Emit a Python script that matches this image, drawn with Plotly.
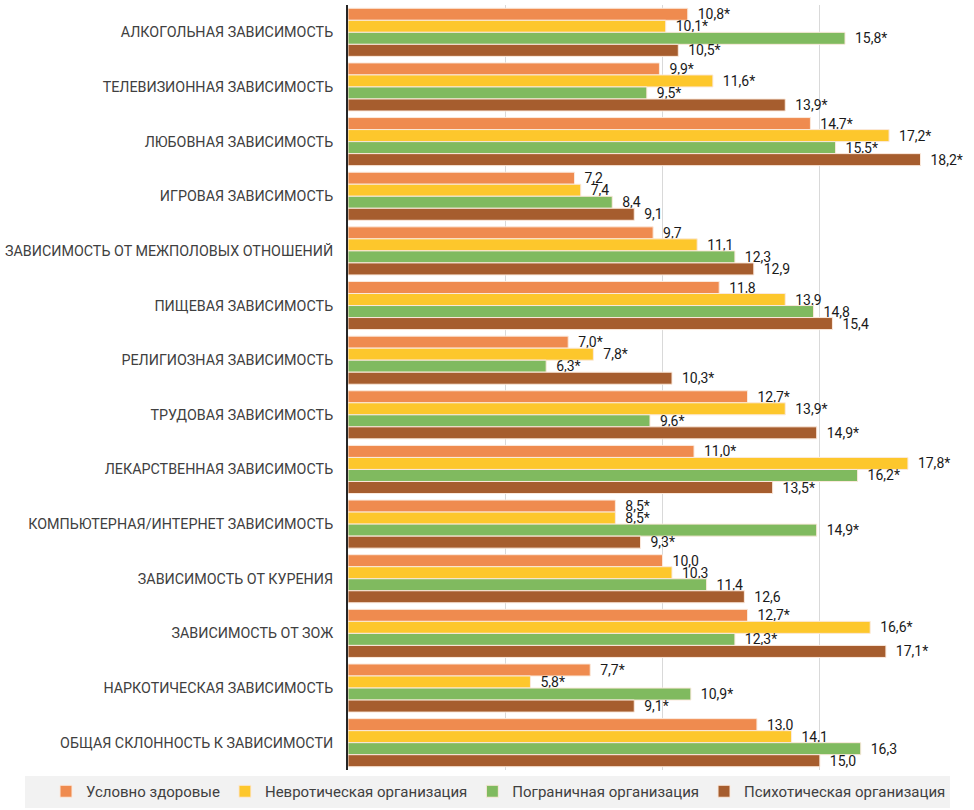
import plotly.graph_objects as go

categories = [
    "АЛКОГОЛЬНАЯ ЗАВИСИМОСТЬ",
    "ТЕЛЕВИЗИОННАЯ ЗАВИСИМОСТЬ",
    "ЛЮБОВНАЯ ЗАВИСИМОСТЬ",
    "ИГРОВАЯ ЗАВИСИМОСТЬ",
    "ЗАВИСИМОСТЬ ОТ МЕЖПОЛОВЫХ ОТНОШЕНИЙ",
    "ПИЩЕВАЯ ЗАВИСИМОСТЬ",
    "РЕЛИГИОЗНАЯ ЗАВИСИМОСТЬ",
    "ТРУДОВАЯ ЗАВИСИМОСТЬ",
    "ЛЕКАРСТВЕННАЯ ЗАВИСИМОСТЬ",
    "КОМПЬЮТЕРНАЯ/ИНТЕРНЕТ ЗАВИСИМОСТЬ",
    "ЗАВИСИМОСТЬ ОТ КУРЕНИЯ",
    "ЗАВИСИМОСТЬ ОТ ЗОЖ",
    "НАРКОТИЧЕСКАЯ ЗАВИСИМОСТЬ",
    "ОБЩАЯ СКЛОННОСТЬ К ЗАВИСИМОСТИ",
]

series_names = [
    "Условно здоровые",
    "Невротическая организация",
    "Пограничная организация",
    "Психотическая организация",
]

healthy = [10.8, 9.9, 14.7, 7.2, 9.7, 11.8, 7.0, 12.7, 11.0, 8.5, 10.0, 12.7, 7.7, 13.0]
neurotic = [10.1, 11.6, 17.2, 7.4, 11.1, 13.9, 7.8, 13.9, 17.8, 8.5, 10.3, 16.6, 5.8, 14.1]
borderline = [15.8, 9.5, 15.5, 8.4, 12.3, 14.8, 6.3, 9.6, 16.2, 14.9, 11.4, 12.3, 10.9, 16.3]
psychotic = [10.5, 13.9, 18.2, 9.1, 12.9, 15.4, 10.3, 14.9, 13.5, 9.3, 12.6, 17.1, 9.1, 15.0]

# significance marks (*) per category (same for all four groups)
significant = [True, True, True, False, False, False, True, True, True, True, False, True, True, False]

colors = ["#EF8B4F", "#FDC72C", "#80BA5F", "#A65D2E"]

all_values = [healthy, neurotic, borderline, psychotic]

FONT = "Roboto, Noto Sans, sans-serif"

W, H = 974, 810
ML, MR, MT, MB = 348, 0, 5, 40
PW = W - ML - MR
PH = H - MT - MB


def fmt(v, s):
    t = f"{v:.1f}".replace(".", ",")
    return "\u00a0\u00a0" + t + ("*" if s else "")


fig = go.Figure()
for name, vals, col in zip(series_names, all_values, colors):
    fig.add_trace(go.Bar(
        y=categories,
        x=vals,
        name=name,
        orientation="h",
        marker=dict(color=col, line=dict(color="#FBE9DC", width=1)),
        text=[fmt(v, s) for v, s in zip(vals, significant)],
        textposition="outside",
        textfont=dict(size=14, color="#1a1a1a", family=FONT),
        constraintext="none",
        cliponaxis=False,
    ))


def px_x(p):
    return (p - ML) / PW


def px_y(p):
    return (H - MB - p) / PH


# legend background band
fig.add_shape(
    type="rect", xref="paper", yref="paper",
    x0=px_x(25), x1=px_x(950), y0=px_y(808), y1=px_y(776),
    fillcolor="#F2F2F2", line=dict(width=0), layer="below",
)

fig.update_layout(
    width=W,
    height=H,
    margin=dict(l=ML, r=MR, t=MT, b=MB, autoexpand=False),
    paper_bgcolor="white",
    plot_bgcolor="white",
    barmode="group",
    bargap=0.12,
    bargroupgap=0.0,
    showlegend=True,
    legend=dict(
        orientation="h",
        xref="paper",
        yref="paper",
        x=px_x(46),
        xanchor="left",
        y=px_y(775),
        yanchor="top",
        bgcolor="rgba(0,0,0,0)",
        font=dict(size=15, color="#404040", family=FONT),
        itemwidth=30,
        traceorder="normal",
    ),
    font=dict(family=FONT),
)

fig.update_xaxes(
    range=[0, 19.9],
    showticklabels=False,
    showgrid=True,
    gridcolor="#D9D9D9",
    gridwidth=1,
    dtick=5,
    zeroline=False,
    showline=False,
    automargin=False,
)
fig.update_yaxes(
    autorange="reversed",
    showline=True,
    linecolor="#262626",
    linewidth=2,
    ticks="",
    ticklabelstandoff=10,
    tickfont=dict(size=14.3, color="#404040", family=FONT),
    showgrid=False,
    automargin=False,
)

fig.write_html(
    "out.html",
    config={"displayModeBar": False},
    post_script="document.body.style.margin='0';document.body.style.overflow='hidden';",
)
